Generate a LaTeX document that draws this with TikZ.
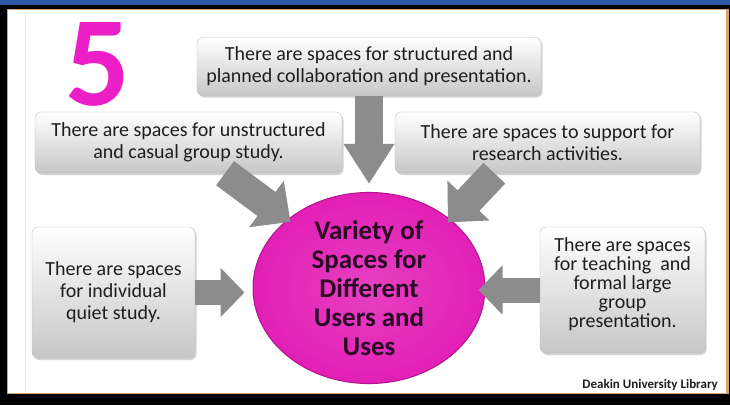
\documentclass[tikz,border=0pt]{standalone}
\usepackage{fontspec}
\setmainfont{Carlito}
\usetikzlibrary{arrows.meta,shadows,shapes.geometric}
\definecolor{slideblue}{HTML}{2B5AA6}
\definecolor{rimorange}{HTML}{D9A36A}
\definecolor{fivepink}{HTML}{EC1EC6}
\definecolor{ballpink}{HTML}{E21FB6}
\definecolor{ballrim}{HTML}{B0148E}
\definecolor{balltext}{HTML}{2A0A24}
\definecolor{arrowgrey}{HTML}{8C8C8C}
\definecolor{boxrim}{HTML}{BEBEBE}
\definecolor{boxtext}{HTML}{1E1E1E}
\tikzset{
  spacebox/.style={draw=boxrim,rounded corners=6pt,top color=white,bottom color=black!22,
    drop shadow={shadow xshift=1.5pt,shadow yshift=-2pt,opacity=0.35},
    align=center,inner sep=0pt,text=boxtext,font=\fontsize{20}{22}\selectfont},
  bigarrow/.style={draw=arrowgrey,line width=25pt,-{Triangle[length=24pt,width=48pt]},arrowgrey}
}
\begin{document}
\begin{tikzpicture}[x=1pt,y=-1pt]
	\useasboundingbox (0,0) rectangle (730,405);
	%frame
	\fill[black] (0,0) rectangle (730,405);
	\fill[slideblue] (0,0) rectangle (730,5);
	\fill[rimorange] (7,9) rectangle (729,394);
	\fill[white] (8,10) rectangle (726,393);
	\draw[black!10,line width=1pt] (25,12) -- (25,392);

	%big five
	\node[anchor=base,text=fivepink,font=\fontsize{128}{128}\selectfont\bfseries,inner sep=0pt,text depth=0pt] (five) at (98,105) {5};

	%centre
	\node[ellipse,minimum width=232pt,minimum height=184pt,inner sep=0pt,draw=ballrim,line width=1pt,
	  inner color=ballpink!85!white,outer color=ballpink,align=center,text=balltext,
	  font=\fontsize{27}{29}\selectfont\bfseries] (variety) at (369,288)
	  {Variety of\\Spaces for\\Different\\Users and\\Uses};

	%boxes
	\node[spacebox,minimum width=344pt,minimum height=58pt] (structured) at (369,66.5)
	  {There are spaces for structured and\\planned collaboration and presentation.};
	\node[spacebox,minimum width=307pt,minimum height=61pt] (casual) at (188.5,142.5)
	  {There are spaces for unstructured\\and casual group study.};
	\node[spacebox,minimum width=305pt,minimum height=61pt] (research) at (547.5,142.5)
	  {There are spaces to support for\\research activities.};
	\node[spacebox,minimum width=163pt,minimum height=131pt] (quiet) at (113.5,292.5)
	  {There are spaces\\for individual\\quiet study.};
	\node[spacebox,minimum width=165pt,minimum height=126pt,font=\fontsize{20}{19}\selectfont] (teaching) at (622.5,290)
	  {There are spaces\\for teaching~ and\\formal large\\group\\presentation.\\[-5pt]\mbox{}};

	%arrows
	\draw[bigarrow,line width=28pt,-{Triangle[length=40pt,width=48pt]},shorten >=8pt] (structured.south) -- (variety.north);
	\draw[bigarrow,line width=30pt,-{Triangle[length=30pt,width=56pt]},shorten >=-4pt] (casual.-40) -- (variety.140);
	\draw[bigarrow,line width=30pt,-{Triangle[length=30pt,width=56pt]},shorten >=-4pt] (research.-150) -- (variety.40);
	\draw[bigarrow,shorten >=8pt] (quiet.east) -- (quiet.east -| variety.west);
	\draw[bigarrow,shorten >=-7pt] (teaching.west) -- (teaching.west -| variety.east);

	%label
	\node[anchor=base east,font=\fontsize{13}{13}\selectfont\bfseries,text=boxtext,inner sep=0pt] (library) at (718,388)
	  {Deakin University Library};
\end{tikzpicture}
\end{document}
